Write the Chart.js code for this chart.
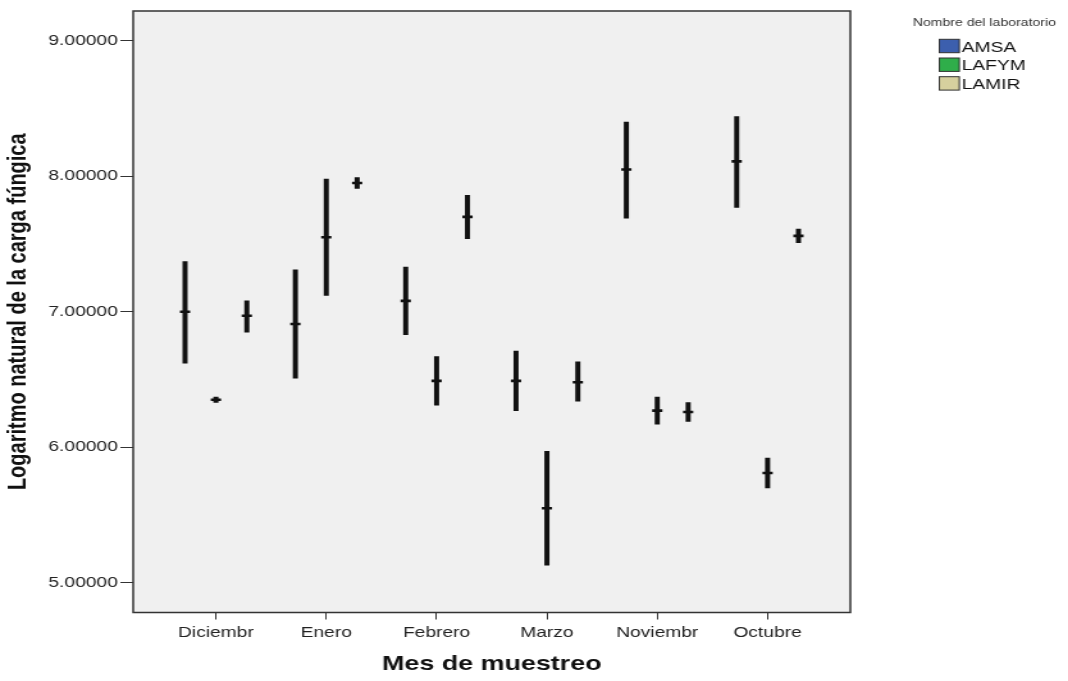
<!DOCTYPE html>
<html>
<head>
<meta charset="utf-8">
<script src="https://cdn.jsdelivr.net/npm/chart.js@4/dist/chart.umd.min.js"></script>
<style>
  html, body { margin: 0; padding: 0; background: #fff; overflow: hidden; }
  /* the reference is stretched horizontally, so draw narrow and widen the canvas */
  #chart { transform: scaleX(1.2806); transform-origin: 0 0; display: block; }
</style>
</head>
<body>
<canvas id="chart" width="834" height="681"></canvas>
<script>
// Meses y laboratorios
const months = ['Diciembr', 'Enero', 'Febrero', 'Marzo', 'Noviembr', 'Octubre'];
const labs = ['AMSA', 'LAFYM', 'LAMIR'];
const labColors = ['#3c5fae', '#2fae4a', '#d6d09e'];
const yTicks = [5, 6, 7, 8, 9];

// media + intervalo (bajo / alto) por mes
const amsaMean = [7.00, 6.91, 7.08, 6.49, 8.05, 8.11];
const amsaLow  = [6.62, 6.51, 6.83, 6.27, 7.69, 7.77];
const amsaHigh = [7.37, 7.31, 7.33, 6.71, 8.40, 8.44];

const lafymMean = [6.35, 7.55, 6.49, 5.55, 6.27, 5.81];
const lafymLow  = [6.33, 7.12, 6.31, 5.13, 6.17, 5.70];
const lafymHigh = [6.37, 7.98, 6.67, 5.97, 6.37, 5.92];

const lamirMean = [6.97, 7.95, 7.70, 6.48, 6.26, 7.56];
const lamirLow  = [6.85, 7.91, 7.54, 6.34, 6.19, 7.51];
const lamirHigh = [7.08, 7.99, 7.86, 6.63, 6.33, 7.61];

const groupOffset = [-0.28, 0, 0.28];

const means = [amsaMean, lafymMean, lamirMean];
const lows = [amsaLow, lafymLow, lamirLow];
const highs = [amsaHigh, lafymHigh, lamirHigh];

const FONT = "'Liberation Sans', Arial, sans-serif";

const datasets = [];
labs.forEach((lab, g) => {
    datasets.push({
        type: 'bar',
        label: lab,
        data: months.map((m, i) => ({ x: i + 1 + groupOffset[g], y: [lows[g][i], highs[g][i]] })),
        backgroundColor: '#111',
        borderWidth: 0,
        barThickness: 3.3,
        grouped: false
    });
    datasets.push({
        type: 'scatter',
        label: lab + ' media',
        data: months.map((m, i) => ({ x: i + 1 + groupOffset[g], y: means[g][i] })),
        pointStyle: 'line',
        pointRadius: 4,
        borderColor: '#111',
        borderWidth: 2.6
    });
});

// fondo gris + marco del area de trazado + leyenda
const frameAndLegend = {
    id: 'frameAndLegend',
    beforeDraw(chart) {
        const { ctx, chartArea: a } = chart;
        ctx.save();
        ctx.fillStyle = '#f0f0f0';
        ctx.fillRect(a.left, a.top, a.right - a.left, a.bottom - a.top);
        ctx.restore();
    },
    afterDraw(chart) {
        const { ctx, chartArea: a } = chart;
        ctx.save();
        ctx.strokeStyle = '#333';
        ctx.lineWidth = 1.5;
        ctx.strokeRect(a.left, a.top, a.right - a.left, a.bottom - a.top);

        ctx.fillStyle = '#333';
        ctx.font = '11px ' + FONT;
        ctx.textBaseline = 'middle';
        ctx.fillText('Nombre del laboratorio', 712.7, 23);

        labs.forEach((lab, i) => {
            const top = 39.3 + i * 18.7;
            ctx.fillStyle = labColors[i];
            ctx.fillRect(733.5, top, 15.6, 13.4);
            ctx.strokeStyle = '#333';
            ctx.lineWidth = 1;
            ctx.strokeRect(733.5, top, 15.6, 13.4);
            ctx.fillStyle = '#111';
            ctx.font = '15px ' + FONT;
            ctx.textBaseline = 'alphabetic';
            ctx.fillText(lab, 751, top + 12.4);
        });
        ctx.restore();
    }
};

new Chart(document.getElementById('chart'), {
    type: 'bar',
    data: { datasets },
    plugins: [frameAndLegend],
    options: {
        responsive: false,
        animation: false,
        layout: { padding: { top: 6.7, right: 170, left: 0, bottom: 0 } },
        plugins: {
            legend: { display: false },
            tooltip: { enabled: false }
        },
        scales: {
            x: {
                type: 'linear',
                min: 0.25,
                max: 6.75,
                offset: false,
                afterBuildTicks: (scale) => { scale.ticks = months.map((m, i) => ({ value: i + 1 })); },
                afterFit: (scale) => { scale.height = 68.5; },
                ticks: {
                    autoSkip: false,
                    maxRotation: 0,
                    padding: 4,
                    color: '#222',
                    font: { family: FONT, size: 15 },
                    callback: (v) => months[v - 1]
                },
                grid: { offset: false, drawOnChartArea: false, drawTicks: true, tickLength: 7, color: '#333' },
                border: { display: false },
                title: {
                    display: true,
                    text: 'Mes de muestreo',
                    color: '#111',
                    font: { family: FONT, size: 21, weight: 'bold' },
                    padding: { top: 0, bottom: 4 }
                }
            },
            y: {
                min: 4.78,
                max: 9.22,
                afterBuildTicks: (scale) => { scale.ticks = yTicks.map(v => ({ value: v })); },
                afterFit: (scale) => { scale.width = 104; },
                ticks: {
                    padding: 2,
                    color: '#222',
                    font: { family: FONT, size: 15 },
                    callback: (v) => Number(v).toFixed(5)
                },
                grid: { drawOnChartArea: false, drawTicks: true, tickLength: 10, color: '#333' },
                border: { display: false },
                title: {
                    display: true,
                    text: 'Logaritmo natural de la carga fúngica',
                    color: '#111',
                    font: { family: FONT, size: 20, weight: 'bold' },
                    padding: { top: 2, bottom: 0 }
                }
            }
        }
    }
});
</script>
</body>
</html>
